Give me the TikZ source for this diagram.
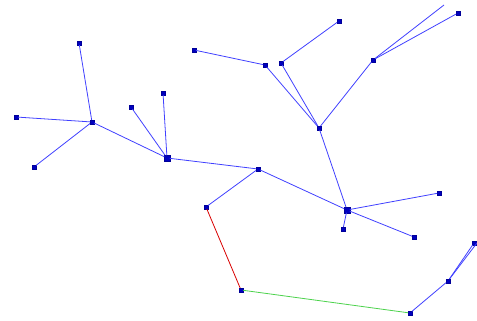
\documentclass[tikz,border=0pt]{standalone}
\usepackage{tikz}
\usetikzlibrary{positioning}
\tikzstyle{vertex}    = [draw=blue!60!black, fill=blue!75!black, rectangle, minimum size=4pt, inner sep=0pt, outer sep=0pt]
\tikzstyle{hub}       = [vertex, minimum size=5.5pt]
\tikzstyle{edge}      = [line width=0.8pt, draw=blue!75]
\tikzstyle{rededge}   = [line width=0.8pt, draw=red!85!black]
\tikzstyle{greenedge} = [line width=0.8pt, draw=green!75!black!70]

\begin{document}
\begin{tikzpicture}[
        x=1pt,
        y=-1pt
    ]
        \useasboundingbox (0,0) rectangle (477,321);

        % Levy strom
        \node[vertex] (a)  at (92,122) {};
        \node[vertex] (a1) at (79,43) {};
        \node[vertex] (a2) at (16,117) {};
        \node[vertex] (a3) at (34,167) {};

        \node[hub]    (b)  at (167,158) {};
        \node[vertex] (b1) at (131,107) {};
        \node[vertex] (b2) at (163,93) {};

        \node[vertex] (c)  at (258,169) {};
        \node[vertex] (c1) at (206,207) {};

        % Pravy strom
        \node[hub]    (d)  at (347,210) {};
        \node[vertex] (d1) at (343,229) {};
        \node[vertex] (d2) at (439,193) {};
        \node[vertex] (d3) at (414,237) {};

        \node[vertex] (e)  at (319,128) {};
        \node[vertex] (e1) at (265,65) {};
        \node[vertex] (e2) at (194,50) {};
        \node[vertex] (e3) at (281,63) {};
        \node[vertex] (e4) at (339,21) {};

        \node[vertex] (f)  at (373,60) {};
        \node[vertex] (f1) at (458,13) {};
        \coordinate   (f2) at (444,5);

        % Spodni cesta
        \node[vertex] (g)  at (241,290) {};
        \node[vertex] (h)  at (410,313) {};
        \node[vertex] (h1) at (448,281) {};
        \node[vertex] (h2) at (474,243) {};
        \coordinate   (h3) at (480,239);

        % Hrany
        \foreach \x in {a1,a2,a3,b} {
            \draw[edge] (a) -- (\x);
        }
        \foreach \x in {b1,b2,c} {
            \draw[edge] (b) -- (\x);
        }
        \foreach \x in {c1,d} {
            \draw[edge] (c) -- (\x);
        }
        \foreach \x in {d1,d2,d3,e} {
            \draw[edge] (d) -- (\x);
        }
        \foreach \x in {e1,e3,f} {
            \draw[edge] (e) -- (\x);
        }
        \draw[edge] (e1) -- (e2);
        \draw[edge] (e3) -- (e4);
        \draw[edge] (f) -- (f1);
        \draw[edge] (f) -- (f2);

        \draw[edge] (h) -- (h1);
        \draw[edge] (h1) -- (h2);
        \draw[edge] (h1) -- (h3);

        % Barevne hrany
        \draw[rededge] (c1) -- (g);
        \draw[greenedge] (g) -- (h);

    \end{tikzpicture}
\end{document}
